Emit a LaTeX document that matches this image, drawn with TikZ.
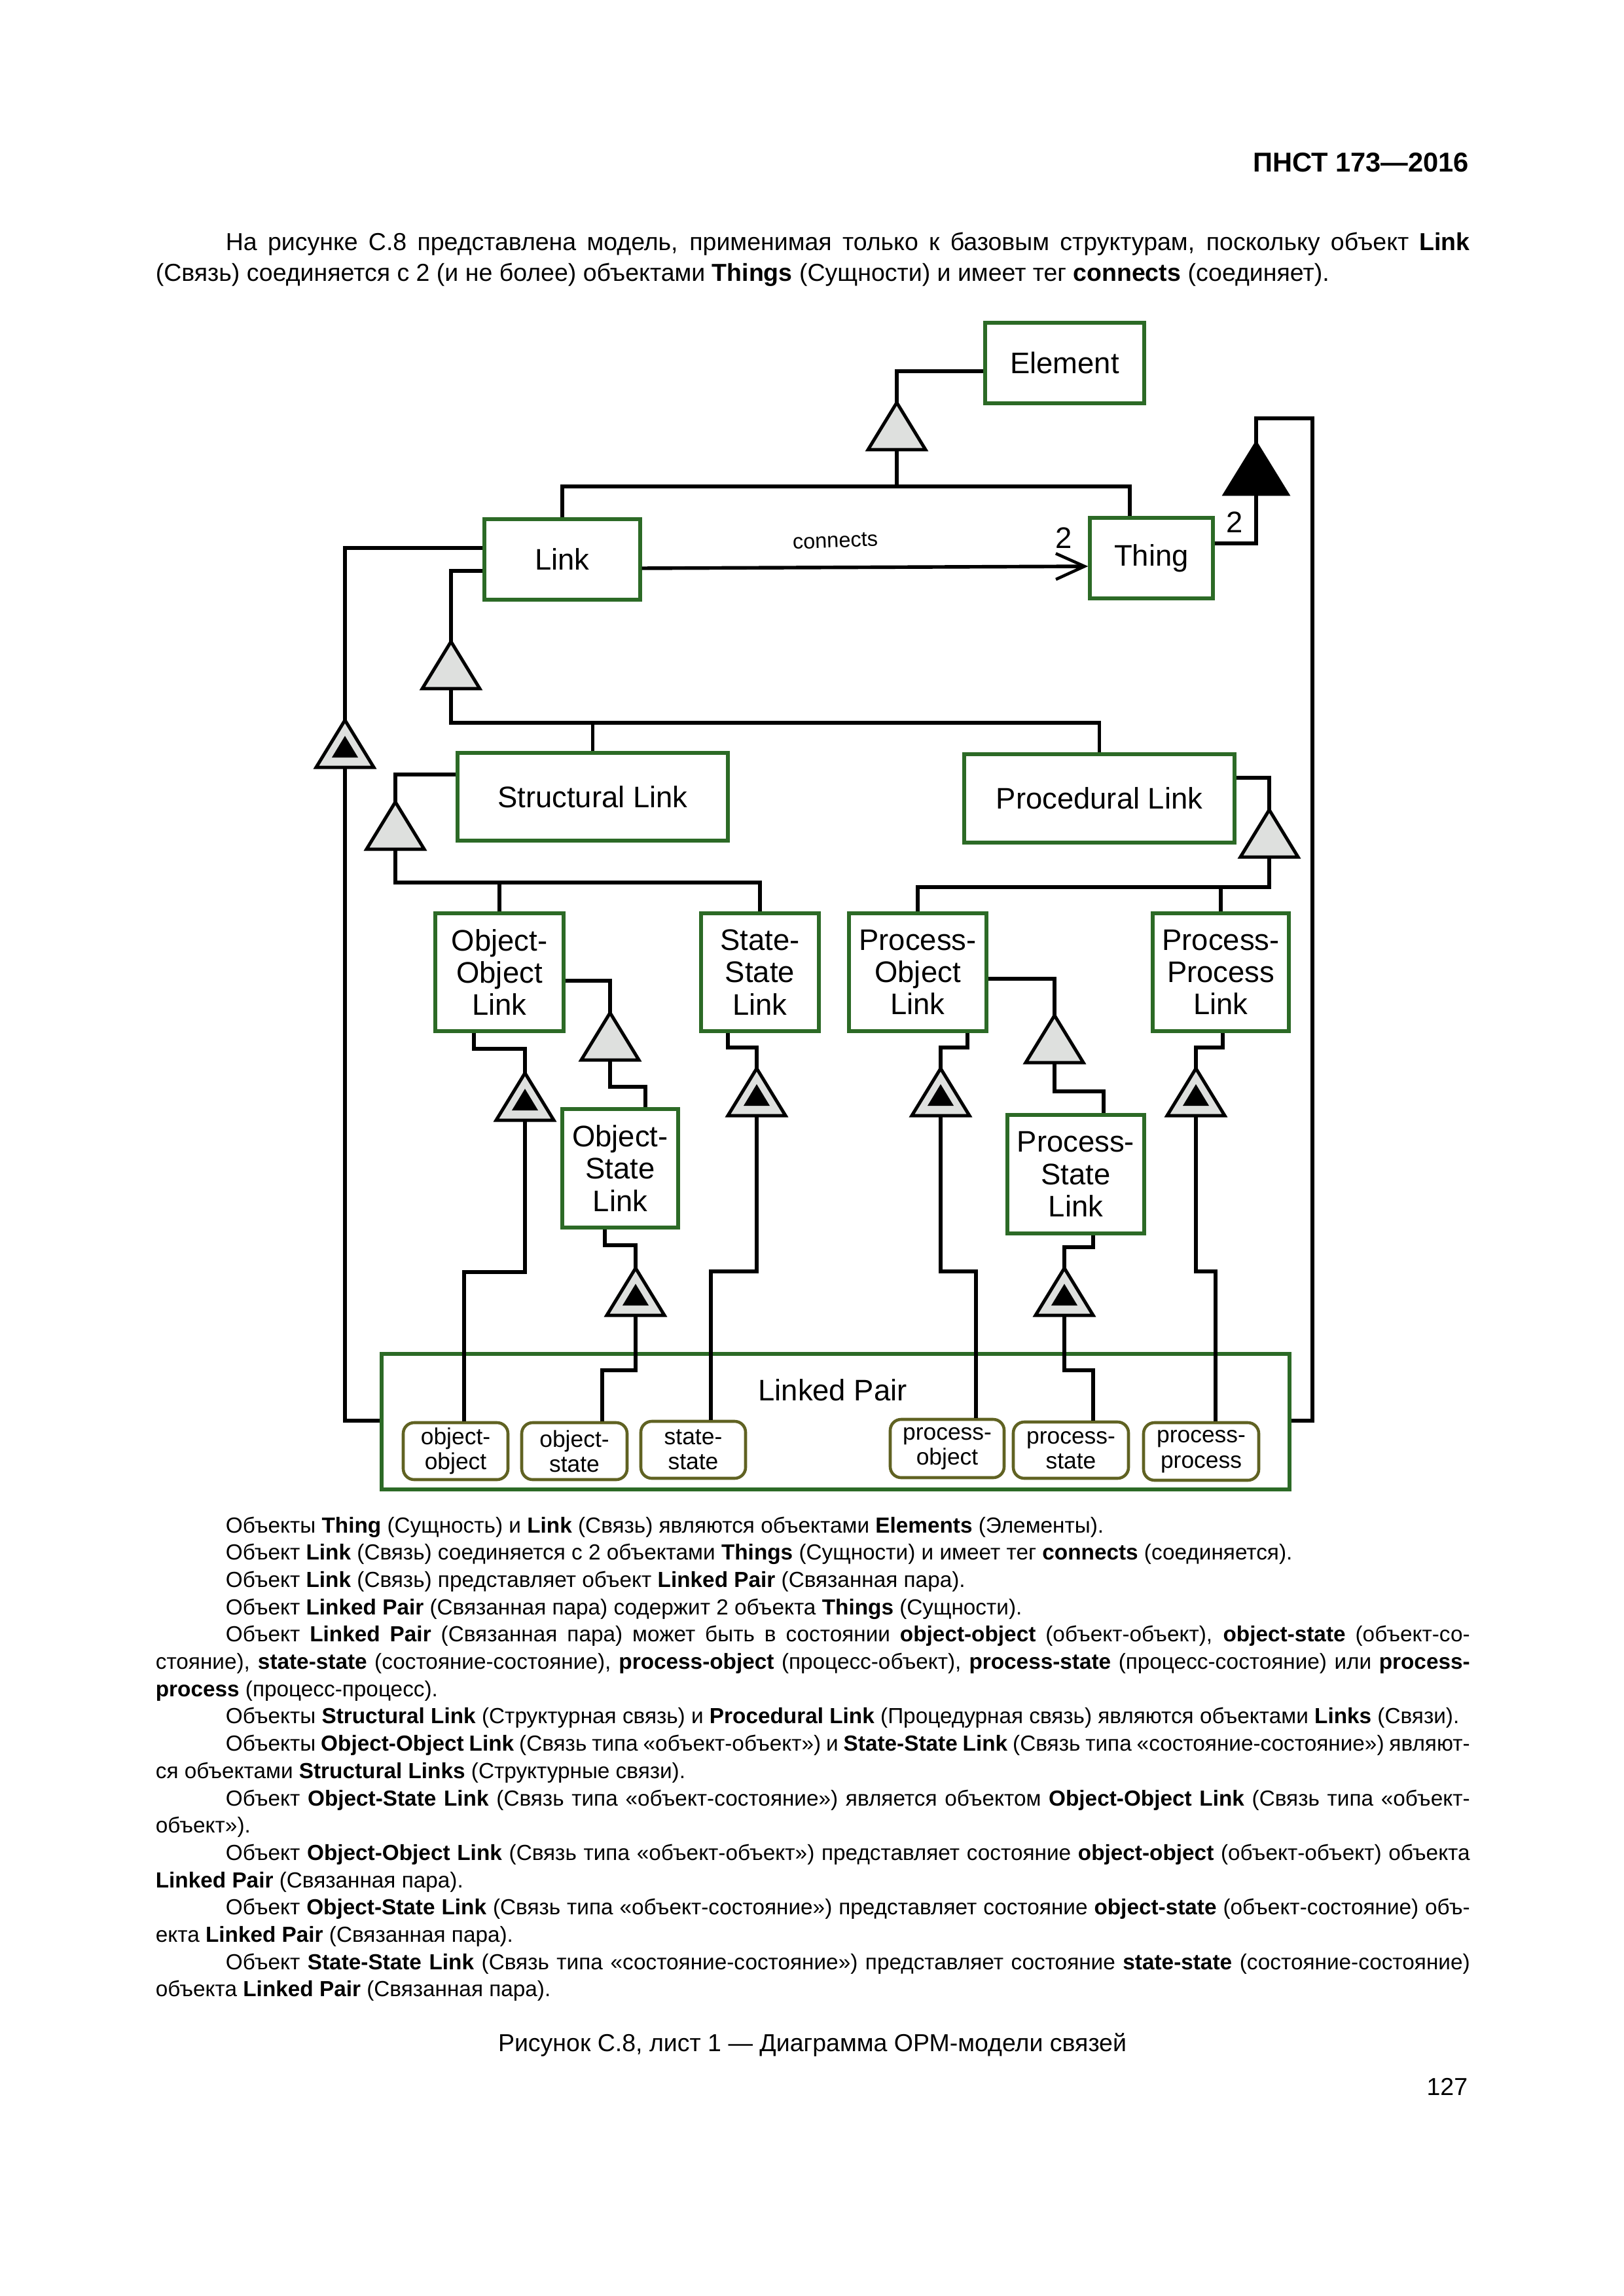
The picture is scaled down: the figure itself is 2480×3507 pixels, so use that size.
\documentclass[tikz,border=0pt]{standalone}
\usepackage{fontspec}
\setmainfont{Liberation Sans}
\usetikzlibrary{arrows.meta}
\definecolor{boxgreen}{RGB}{44,106,38}
\definecolor{pillolive}{RGB}{96,98,34}
\definecolor{trigray}{RGB}{222,224,222}
\newcommand\bodyfont{\fontsize{8}{10}\selectfont}
\newcommand\topfont{\fontsize{9}{11}\selectfont}
% #1 style, #2 name, #3..#6 = x1,y1,x2,y2 (pixels), #7 text
\newcommand\placebox[7]{\node[#1,minimum width={(#5-#3)*0.24pt},minimum height={(#6-#4)*0.24pt}] (#2) at ({(#3+#5)/2},{(#4+#6)/2}) {#7};}
\begin{document}
\begin{tikzpicture}[x=0.24pt,y=-0.24pt,
  conn/.style={line width=1.3pt,draw=black},
  gbox/.style={draw=boxgreen,line width=1.3pt,inner sep=0pt,align=center,font=\fontsize{10.9}{11.8}\selectfont,fill=white},
  pill/.style={draw=pillolive,line width=1.1pt,rounded corners=4pt,inner sep=0pt,align=center,font=\fontsize{8.5}{9.2}\selectfont,fill=white},
  tri/.style={draw=black,line width=1.2pt,fill=trigray,line join=miter},
  lbl/.style={inner sep=0pt,font=\fontsize{10.9}{12}\selectfont},
  bline/.style={anchor=base west,inner sep=0pt,font=\bodyfont},
  tline/.style={anchor=base west,inner sep=0pt,font=\topfont},
  gen/.pic={\draw[tri] (0,0) -- (44,72) -- (-44,72) -- cycle;
            \coordinate (-apex) at (0,0); \coordinate (-base) at (0,72);},
  exh/.pic={\draw[tri] (0,0) -- (44,72) -- (-44,72) -- cycle;
            \fill[black] (0,24) -- (20,57) -- (-20,57) -- cycle;
            \coordinate (-apex) at (0,0); \coordinate (-base) at (0,72);},
  agg/.pic={\draw[line width=1.2pt,fill=black,line join=miter] (0,0) -- (48,78) -- (-48,78) -- cycle;
            \coordinate (-apex) at (0,0); \coordinate (-base) at (0,78);}
]
\useasboundingbox (0,0) rectangle (2480,3507);
\fill[white] (0,0) rectangle (2480,3507);

% ---------- header and top paragraph ----------
\node[anchor=base east,inner sep=0pt,font=\fontsize{10}{12}\selectfont\bfseries] (hdr) at (2245,263) {ПНСТ 173—2016};
\node[tline] (t1) at (344,383) {\hbox to 456.2pt{На рисунке С.8 представлена модель, применимая только к базовым структурам, поскольку объект \textbf{Link}}};
\node[tline] (t2) at (237,430) {(Связь) соединяется с 2 (и не более) объектами \textbf{Things} (Сущности) и имеет тег \textbf{connects} (соединяет).};

% ---------- boxes ----------
\placebox{gbox}{element}{1505}{493}{1748}{616}{Element}
\placebox{gbox}{link}{740}{793}{978}{916}{Link}
\placebox{gbox}{thing}{1665}{791}{1853}{914}{Thing}
\placebox{gbox}{sl}{699}{1150}{1112}{1284}{Structural Link}
\placebox{gbox}{pl}{1473}{1152}{1886}{1287}{Procedural Link}
\placebox{gbox}{ool}{665}{1395}{861}{1575}{Object-\\Object\\Link}
\placebox{gbox}{ssl}{1071}{1395}{1251}{1575}{State-\\State\\Link}
\placebox{gbox}{pol}{1297}{1395}{1507}{1575}{Process-\\Object\\Link}
\placebox{gbox}{ppl}{1761}{1395}{1969}{1575}{Process-\\Process\\Link}
\placebox{gbox}{osl}{859}{1694}{1036}{1875}{Object-\\State\\Link}
\placebox{gbox}{psl}{1539}{1703}{1748}{1884}{Process-\\State\\Link}
\placebox{draw=boxgreen,line width=1.3pt,inner sep=0pt}{lp}{583}{2068}{1970}{2275}{}
\node[lbl] (lplabel) at (1272,2123) {Linked Pair};
\placebox{pill}{oo}{616}{2173}{776}{2260}{object-\\object}
\placebox{pill}{os}{797}{2173}{958}{2260}{object-\\state}
\placebox{pill}{ss}{979}{2171}{1139}{2258}{state-\\state}
\placebox{pill}{po}{1360}{2168}{1534}{2257}{process-\\object}
\placebox{pill}{ps}{1548}{2172}{1724}{2258}{process-\\state}
\placebox{pill}{pp}{1747}{2173}{1923}{2261}{process-\\process}

% ---------- connectors ----------
\draw[conn] (element.west |- 0,567) -| (1370,615);
\draw[conn] (1370,687) -- (1370,743);
\draw[conn] (link.north) |- (1726,743) -- (thing.north -| 1726,0);
\draw[conn,-{Straight Barb[length=10.5pt,width=9.5pt,line width=1.1pt]}] (link.east |- 0,868) -- (thing.west |- 0,865);
\node[inner sep=0pt,font=\fontsize{7.8}{9}\selectfont,rotate=2] (conlbl) at (1276,826) {connects};
\node[lbl] (two1) at (1625,822) {2};
\node[lbl] (two2) at (1886,798) {2};

% Thing -> aggregation -> Linked Pair
\draw[conn] (thing.east |- 0,830) -| (1919,755);
\draw[conn] (1919,677) |- (2005,639) |- (lp.east |- 0,2170);
% Link -> exhibition -> Linked Pair
\draw[conn] (link.west |- 0,837) -| (527,1100);
\draw[conn] (527,1172) |- (lp.west |- 0,2170);
% Link -> Structural / Procedural
\draw[conn] (link.west |- 0,872) -| (689,980);
\draw[conn] (689,1052) |- (pl.north |- 0,1104) -- (pl.north);
\draw[conn] (sl.north) -- (sl.north |- 0,1104);
% Structural -> OOL / SSL
\draw[conn] (sl.west |- 0,1183) -| (604,1225);
\draw[conn] (604,1297) |- (ssl.north |- 0,1348) -- (ssl.north);
\draw[conn] (ool.north) -- (ool.north |- 0,1348);
% Procedural -> POL / PPL
\draw[conn] (pl.east |- 0,1188) -| (1939,1237);
\draw[conn] (1939,1309) |- (pol.north |- 0,1355) -- (pol.north);
\draw[conn] (ppl.north) -- (ppl.north |- 0,1355);
% OOL -> OSL
\draw[conn] (ool.east |- 0,1498) -| (932,1547);
\draw[conn] (932,1619) |- (986,1660) -- (osl.north -| 986,0);
% POL -> PSL
\draw[conn] (pol.east |- 0,1495) -| (1611,1551);
\draw[conn] (1611,1623) |- (1686,1667) -- (psl.north -| 1686,0);
% exhibition links to pills
\draw[conn] (ool.south -| 724,0) |- (802,1602) -- (802,1639);
\draw[conn] (802,1711) |- (709,1943) -- (oo.north -| 709,0);
\draw[conn] (ssl.south -| 1112,0) |- (1156,1600) -- (1156,1632);
\draw[conn] (1156,1704) |- (1086,1942) -- (ss.north -| 1086,0);
\draw[conn] (pol.south -| 1478,0) |- (1437,1600) -- (1437,1632);
\draw[conn] (1437,1704) |- (1491,1942) -- (po.north -| 1491,0);
\draw[conn] (ppl.south -| 1868,0) |- (1827,1600) -- (1827,1632);
\draw[conn] (1827,1704) |- (1857,1942) -- (pp.north -| 1857,0);
\draw[conn] (osl.south -| 924,0) |- (971,1902) -- (971,1937);
\draw[conn] (971,2009) |- (920,2093) -- (os.north -| 920,0);
\draw[conn] (psl.south -| 1670,0) |- (1626,1905) -- (1626,1937);
\draw[conn] (1626,2009) |- (1670,2093) -- (ps.north -| 1670,0);

% ---------- triangles ----------
\pic (t0) at (1370,615) {gen};
\pic (tb) at (1919,677) {agg};
\pic (tl) at (527,1100) {exh};
\pic (t1) at (689,980) {gen};
\pic (t2) at (604,1225) {gen};
\pic (t3) at (1939,1237) {gen};
\pic (t4) at (932,1547) {gen};
\pic (t5) at (1611,1551) {gen};
\pic (e1) at (802,1639) {exh};
\pic (e2) at (1156,1632) {exh};
\pic (e3) at (1437,1632) {exh};
\pic (e4) at (1827,1632) {exh};
\pic (e5) at (971,1937) {exh};
\pic (e6) at (1626,1937) {exh};

% ---------- notes under the figure ----------
\node[bline] (b0) at (344,2341) {Объекты \textbf{Thing} (Сущность) и \textbf{Link} (Связь) являются объектами \textbf{Elements} (Элементы).};
\node[bline] (b1) at (344,2382.7) {Объект \textbf{Link} (Связь) соединяется с 2 объектами \textbf{Things} (Сущности) и имеет тег \textbf{connects} (соединяется).};
\node[bline] (b2) at (344,2424.4) {Объект \textbf{Link} (Связь) представляет объект \textbf{Linked Pair} (Связанная пара).};
\node[bline] (b3) at (344,2466.1) {Объект \textbf{Linked Pair} (Связанная пара) содержит 2 объекта \textbf{Things} (Сущности).};
\node[bline] (b4) at (344,2507.8) {\hbox to 456.2pt{Объект \textbf{Linked Pair} (Связанная пара) может быть в состоянии \textbf{object-object} (объект-объект), \textbf{object-state} (объект-со-}};
\node[bline] (b5) at (237,2549.5) {\hbox to 481.9pt{стояние), \textbf{state-state} (состояние-состояние), \textbf{process-object} (процесс-объект), \textbf{process-state} (процесс-состояние) или \textbf{process-}}};
\node[bline] (b6) at (237,2591.2) {\textbf{process} (процесс-процесс).};
\node[bline] (b7) at (344,2632.9) {Объекты \textbf{Structural Link} (Структурная связь) и \textbf{Procedural Link} (Процедурная связь) являются объектами \textbf{Links} (Связи).};
\node[bline] (b8) at (344,2674.6) {\hbox to 456.2pt{Объекты \textbf{Object-Object Link} (Связь типа «объект-объект») и \textbf{State-State Link} (Связь типа «состояние-состояние») являют-}};
\node[bline] (b9) at (237,2716.3) {ся объектами \textbf{Structural Links} (Структурные связи).};
\node[bline] (b10) at (344,2758) {\hbox to 456.2pt{Объект \textbf{Object-State Link} (Связь типа «объект-состояние») является объектом \textbf{Object-Object Link} (Связь типа «объект-}};
\node[bline] (b11) at (237,2799.7) {объект»).};
\node[bline] (b12) at (344,2841.4) {\hbox to 456.2pt{Объект \textbf{Object-Object Link} (Связь типа «объект-объект») представляет состояние \textbf{object-object} (объект-объект) объекта}};
\node[bline] (b13) at (237,2883.1) {\textbf{Linked Pair} (Связанная пара).};
\node[bline] (b14) at (344,2924.8) {\hbox to 456.2pt{Объект \textbf{Object-State Link} (Связь типа «объект-состояние») представляет состояние \textbf{object-state} (объект-состояние) объ-}};
\node[bline] (b15) at (237,2966.5) {екта \textbf{Linked Pair} (Связанная пара).};
\node[bline] (b16) at (344,3008.2) {\hbox to 456.2pt{Объект \textbf{State-State Link} (Связь типа «состояние-состояние») представляет состояние \textbf{state-state} (состояние-состояние)}};
\node[bline] (b17) at (237,3049.9) {объекта \textbf{Linked Pair} (Связанная пара).};

\node[anchor=base,inner sep=0pt,font=\topfont] (caption) at (1241,3133) {Рисунок С.8, лист 1 — Диаграмма ОРМ-модели связей};
\node[anchor=base east,inner sep=0pt,font=\topfont] (pageno) at (2243,3200) {127};
\end{tikzpicture}
\end{document}
